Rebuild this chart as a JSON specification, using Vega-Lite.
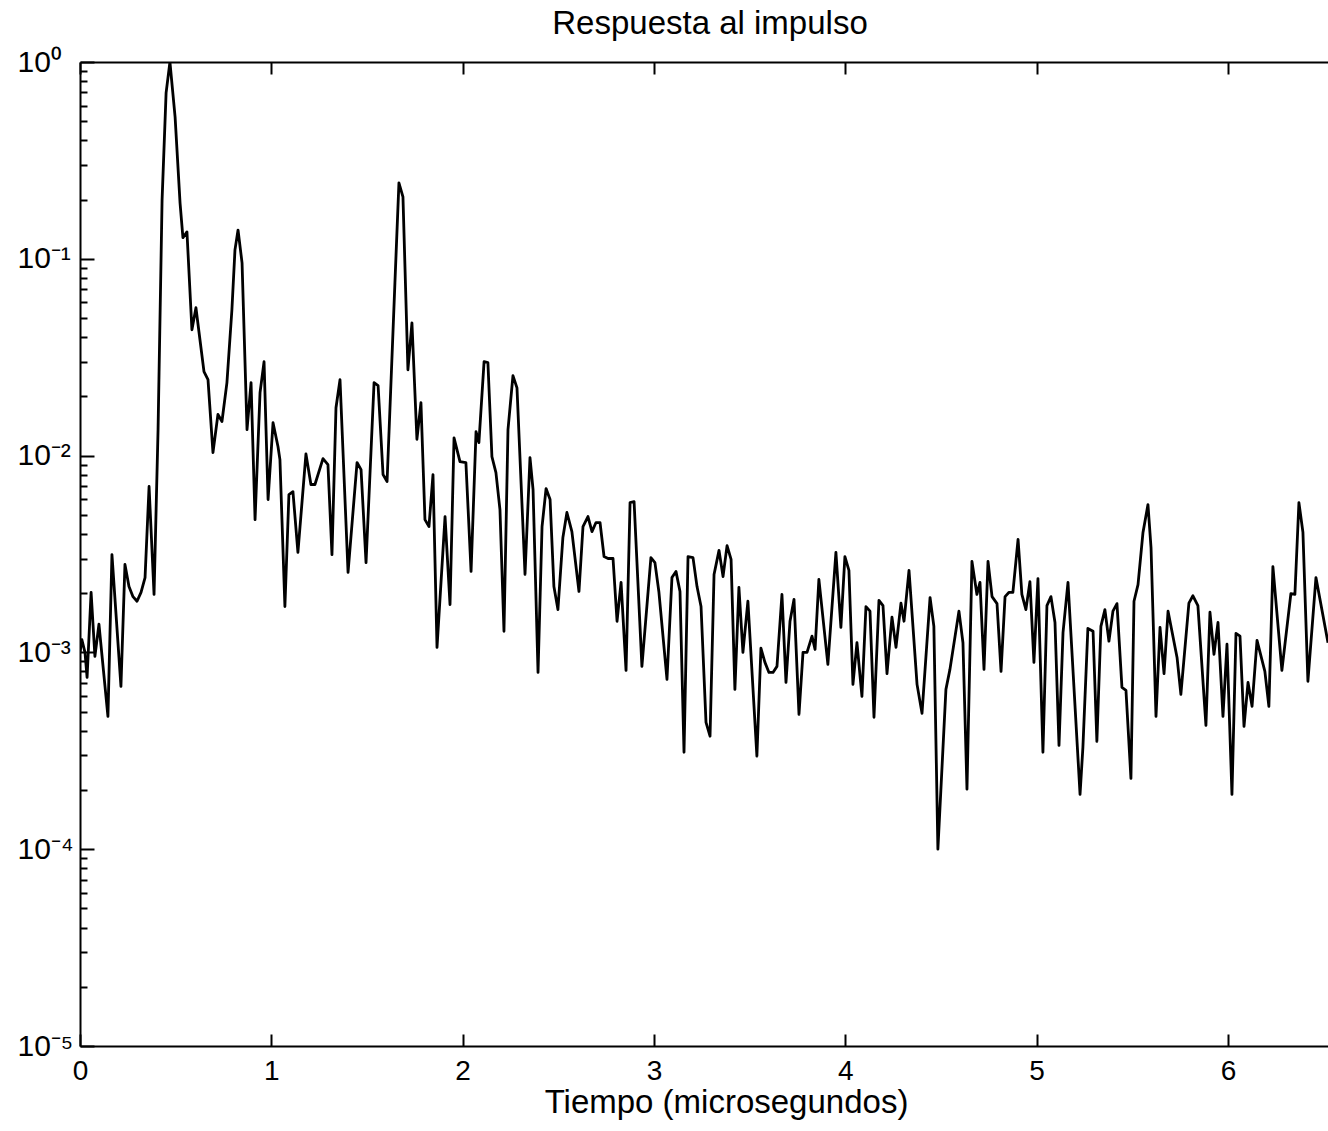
{
  "$schema": "https://vega.github.io/schema/vega-lite/v6.json",
  "width": 1248,
  "height": 984,
  "autosize": {"type": "none"},
  "padding": {"left": 80, "top": 62, "right": 0, "bottom": 85},
  "background": "white",
  "config": {"view": {"stroke": null}},
  "title": {"text": "Respuesta al impulso", "font": "Liberation Sans", "fontSize": 33, "fontWeight": "normal", "color": "black", "anchor": "middle", "dx": 6, "offset": -20, "baseline": "alphabetic"},
  "data": {"values": [
    {"t":0.000,"v":0.00100},{"t":0.010,"v":0.00116},{"t":0.026,"v":0.00100},{"t":0.037,"v":0.000746},{"t":0.058,"v":0.00202},{"t":0.078,"v":0.000954},{"t":0.099,"v":0.00139},{"t":0.146,"v":0.000473},{"t":0.167,"v":0.00314},{"t":0.214,"v":0.000672},{"t":0.235,"v":0.00280},{"t":0.256,"v":0.00216},{"t":0.277,"v":0.00192},{"t":0.298,"v":0.00182},{"t":0.319,"v":0.00202},{"t":0.340,"v":0.00240},{"t":0.361,"v":0.00697},{"t":0.387,"v":0.00197},{"t":0.408,"v":0.01355},{"t":0.429,"v":0.199},{"t":0.450,"v":0.697},{"t":0.470,"v":1.0},{"t":0.497,"v":0.526},{"t":0.523,"v":0.192},{"t":0.538,"v":0.128},{"t":0.559,"v":0.137},{"t":0.585,"v":0.0436},{"t":0.606,"v":0.0564},{"t":0.627,"v":0.0388},{"t":0.648,"v":0.0267},{"t":0.669,"v":0.0243},{"t":0.695,"v":0.01035},{"t":0.721,"v":0.0162},{"t":0.742,"v":0.0149},{"t":0.768,"v":0.0235},{"t":0.794,"v":0.0551},{"t":0.810,"v":0.111},{"t":0.826,"v":0.140},{"t":0.847,"v":0.0954},{"t":0.873,"v":0.01355},{"t":0.894,"v":0.0235},{"t":0.915,"v":0.00473},{"t":0.941,"v":0.0209},{"t":0.962,"v":0.0300},{"t":0.983,"v":0.00598},{"t":1.009,"v":0.0147},{"t":1.035,"v":0.0111},{"t":1.045,"v":0.00954},{"t":1.071,"v":0.00171},{"t":1.092,"v":0.00634},{"t":1.113,"v":0.00656},{"t":1.139,"v":0.00322},{"t":1.181,"v":0.0102},{"t":1.207,"v":0.00713},{"t":1.228,"v":0.00713},{"t":1.270,"v":0.00965},{"t":1.296,"v":0.00900},{"t":1.317,"v":0.00314},{"t":1.338,"v":0.0175},{"t":1.359,"v":0.0243},{"t":1.401,"v":0.00255},{"t":1.448,"v":0.00922},{"t":1.469,"v":0.00849},{"t":1.495,"v":0.00286},{"t":1.537,"v":0.0235},{"t":1.558,"v":0.0227},{"t":1.584,"v":0.00801},{"t":1.605,"v":0.00738},{"t":1.646,"v":0.0755},{"t":1.667,"v":0.243},{"t":1.688,"v":0.2065},{"t":1.714,"v":0.0273},{"t":1.735,"v":0.0473},{"t":1.761,"v":0.0121},{"t":1.782,"v":0.0186},{"t":1.803,"v":0.00473},{"t":1.824,"v":0.00436},{"t":1.845,"v":0.00801},{"t":1.866,"v":0.00106},{"t":1.908,"v":0.00490},{"t":1.934,"v":0.00175},{"t":1.955,"v":0.0123},{"t":1.986,"v":0.00932},{"t":2.017,"v":0.00922},{"t":2.044,"v":0.00258},{"t":2.070,"v":0.01324},{"t":2.085,"v":0.01164},{"t":2.112,"v":0.0300},{"t":2.132,"v":0.0297},{"t":2.153,"v":0.00988},{"t":2.174,"v":0.0082},{"t":2.195,"v":0.00532},{"t":2.216,"v":0.00128},{"t":2.237,"v":0.01355},{"t":2.263,"v":0.0255},{"t":2.284,"v":0.0221},{"t":2.326,"v":0.00249},{"t":2.352,"v":0.00977},{"t":2.368,"v":0.00672},{"t":2.394,"v":0.000791},{"t":2.415,"v":0.00436},{"t":2.436,"v":0.0068},{"t":2.457,"v":0.00598},{"t":2.477,"v":0.00216},{"t":2.498,"v":0.00165},{"t":2.524,"v":0.00384},{"t":2.545,"v":0.00514},{"t":2.571,"v":0.00411},{"t":2.608,"v":0.00204},{"t":2.629,"v":0.00436},{"t":2.655,"v":0.00490},{"t":2.676,"v":0.00411},{"t":2.697,"v":0.00457},{"t":2.718,"v":0.00457},{"t":2.739,"v":0.00307},{"t":2.760,"v":0.00300},{"t":2.786,"v":0.00300},{"t":2.807,"v":0.00144},{"t":2.828,"v":0.00227},{"t":2.854,"v":0.00081},{"t":2.875,"v":0.00577},{"t":2.896,"v":0.00584},{"t":2.937,"v":0.000849},{"t":2.984,"v":0.00303},{"t":3.005,"v":0.00286},{"t":3.026,"v":0.00202},{"t":3.068,"v":0.000729},{"t":3.094,"v":0.00240},{"t":3.115,"v":0.00258},{"t":3.136,"v":0.00204},{"t":3.157,"v":0.000311},{"t":3.178,"v":0.00307},{"t":3.204,"v":0.00303},{"t":3.225,"v":0.00216},{"t":3.246,"v":0.00171},{"t":3.272,"v":0.000441},{"t":3.293,"v":0.000375},{"t":3.314,"v":0.00249},{"t":3.340,"v":0.0033},{"t":3.361,"v":0.00243},{"t":3.382,"v":0.00349},{"t":3.403,"v":0.00297},{"t":3.423,"v":0.000649},{"t":3.444,"v":0.00214},{"t":3.465,"v":0.001},{"t":3.491,"v":0.00182},{"t":3.538,"v":0.000297},{"t":3.559,"v":0.00105},{"t":3.580,"v":0.00089},{"t":3.601,"v":0.000791},{"t":3.622,"v":0.000791},{"t":3.643,"v":0.000849},{"t":3.669,"v":0.00197},{"t":3.690,"v":0.000704},{"t":3.711,"v":0.00144},{"t":3.732,"v":0.00186},{"t":3.758,"v":0.000484},{"t":3.779,"v":0.001},{"t":3.800,"v":0.001},{"t":3.826,"v":0.00121},{"t":3.842,"v":0.001035},{"t":3.862,"v":0.00235},{"t":3.909,"v":0.000869},{"t":3.951,"v":0.00322},{"t":3.977,"v":0.00134},{"t":3.998,"v":0.00307},{"t":4.019,"v":0.00261},{"t":4.040,"v":0.000688},{"t":4.061,"v":0.00112},{"t":4.087,"v":0.000598},{"t":4.108,"v":0.00171},{"t":4.129,"v":0.00162},{"t":4.150,"v":0.000468},{"t":4.176,"v":0.00184},{"t":4.197,"v":0.00173},{"t":4.218,"v":0.00078},{"t":4.244,"v":0.00151},{"t":4.265,"v":0.00106},{"t":4.291,"v":0.00178},{"t":4.307,"v":0.00144},{"t":4.333,"v":0.00261},{"t":4.375,"v":0.000688},{"t":4.401,"v":0.00049},{"t":4.443,"v":0.0019},{"t":4.463,"v":0.001355},{"t":4.484,"v":0.0001},{"t":4.526,"v":0.000649},{"t":4.547,"v":0.00082},{"t":4.594,"v":0.00162},{"t":4.615,"v":0.00112},{"t":4.636,"v":0.000202},{"t":4.662,"v":0.0029},{"t":4.688,"v":0.00197},{"t":4.704,"v":0.00227},{"t":4.725,"v":0.00082},{"t":4.746,"v":0.0029},{"t":4.767,"v":0.00192},{"t":4.793,"v":0.00177},{"t":4.814,"v":0.000801},{"t":4.835,"v":0.00192},{"t":4.856,"v":0.00202},{"t":4.876,"v":0.00202},{"t":4.903,"v":0.00375},{"t":4.923,"v":0.00197},{"t":4.944,"v":0.00165},{"t":4.965,"v":0.00229},{"t":4.986,"v":0.00089},{"t":5.007,"v":0.00237},{"t":5.033,"v":0.000311},{"t":5.054,"v":0.00173},{"t":5.075,"v":0.00192},{"t":5.096,"v":0.00142},{"t":5.117,"v":0.000337},{"t":5.138,"v":0.00126},{"t":5.164,"v":0.00227},{"t":5.227,"v":0.00019},{"t":5.242,"v":0.00033},{"t":5.268,"v":0.001324},{"t":5.295,"v":0.00128},{"t":5.315,"v":0.000353},{"t":5.336,"v":0.001355},{"t":5.357,"v":0.00165},{"t":5.378,"v":0.00114},{"t":5.399,"v":0.00162},{"t":5.420,"v":0.00177},{"t":5.446,"v":0.000664},{"t":5.467,"v":0.000641},{"t":5.493,"v":0.000229},{"t":5.509,"v":0.00182},{"t":5.530,"v":0.00221},{"t":5.556,"v":0.00407},{"t":5.582,"v":0.00564},{"t":5.598,"v":0.00341},{"t":5.624,"v":0.000473},{"t":5.645,"v":0.00134},{"t":5.666,"v":0.00078},{"t":5.687,"v":0.00162},{"t":5.734,"v":0.000943},{"t":5.754,"v":0.000612},{"t":5.796,"v":0.00178},{"t":5.817,"v":0.00194},{"t":5.843,"v":0.00173},{"t":5.885,"v":0.000426},{"t":5.906,"v":0.0016},{"t":5.927,"v":0.000977},{"t":5.948,"v":0.00142},{"t":5.974,"v":0.000473},{"t":5.995,"v":0.0011},{"t":6.021,"v":0.00019},{"t":6.042,"v":0.00125},{"t":6.063,"v":0.00121},{"t":6.084,"v":0.000421},{"t":6.105,"v":0.000704},{"t":6.126,"v":0.000532},{"t":6.152,"v":0.00115},{"t":6.193,"v":0.000801},{"t":6.214,"v":0.000532},{"t":6.235,"v":0.00273},{"t":6.282,"v":0.00081},{"t":6.329,"v":0.00199},{"t":6.350,"v":0.00197},{"t":6.371,"v":0.00577},{"t":6.392,"v":0.00407},{"t":6.418,"v":0.000713},{"t":6.460,"v":0.0024},{"t":6.523,"v":0.00112}
  ]},
  "resolve": {"axis": {"x": "independent", "y": "independent"}},
  "layer": [
    {
      "mark": {"type": "line", "color": "black", "strokeWidth": 2.8, "clip": true, "strokeJoin": "round"},
      "encoding": {
        "x": {"field": "t", "type": "quantitative",
          "scale": {"domain": [0, 6.523], "nice": false, "zero": false},
          "axis": {"orient": "bottom", "values": [0,1,2,3,4,5,6], "grid": false,
            "domainColor": "black", "domainWidth": 2, "tickColor": "black", "tickWidth": 2, "tickSize": -12,
            "labelFont": "Liberation Sans", "labelFontSize": 28, "labelColor": "black", "labelPadding": 23, "labelFlush": false, "labelOverlap": false,
            "title": "Tiempo (microsegundos)", "titleFont": "Liberation Sans", "titleFontSize": 33, "titleFontWeight": "normal", "titleColor": "black",
            "titleX": 646, "titleY": 66, "titleBaseline": "alphabetic", "titleAnchor": null, "titleAlign": "center"}},
        "y": {"field": "v", "type": "quantitative",
          "scale": {"type": "log", "domain": [0.00001, 1], "nice": false},
          "axis": {"orient": "left", "grid": false,
            "values": [0.00001,0.00002,0.00003,0.00004,0.00005,0.00006,0.00007,0.00008,0.00009,0.0001,0.0002,0.0003,0.0004,0.0005,0.0006,0.0007,0.0008,0.0009,0.001,0.002,0.003,0.004,0.005,0.006,0.007,0.008,0.009,0.01,0.02,0.03,0.04,0.05,0.06,0.07,0.08,0.09,0.1,0.2,0.3,0.4,0.5,0.6,0.7,0.8,0.9,1],
            "labelExpr": "datum.value == 1 ? '10⁰' : datum.value == 0.1 ? '10⁻¹' : datum.value == 0.01 ? '10⁻²' : datum.value == 0.001 ? '10⁻³' : datum.value == 0.0001 ? '10⁻⁴' : datum.value == 0.00001 ? '10⁻⁵' : ''",
            "domainColor": "black", "domainWidth": 2, "tickColor": "black", "tickWidth": 2,
            "tickSize": {"condition": {"test": "datum.value == 1 || datum.value == 0.1 || datum.value == 0.01 || datum.value == 0.001 || datum.value == 0.0001 || datum.value == 0.00001", "value": -14}, "value": -7},
            "labelFont": "Liberation Sans", "labelFontSize": 30, "labelColor": "black", "labelAlign": "left", "labelBaseline": "middle", "labelPadding": 77, "labelFlush": false, "labelOverlap": false,
            "title": null}}
      }
    },
    {
      "mark": {"type": "line", "strokeOpacity": 0},
      "encoding": {
        "x": {"field": "t", "type": "quantitative",
          "axis": {"orient": "top", "values": [0,1,2,3,4,5,6], "grid": false, "labels": false, "title": null,
            "domainColor": "black", "domainWidth": 2, "tickColor": "black", "tickWidth": 2, "tickSize": -12}},
        "y": {"field": "v", "type": "quantitative", "axis": null}
      }
    }
  ]
}
